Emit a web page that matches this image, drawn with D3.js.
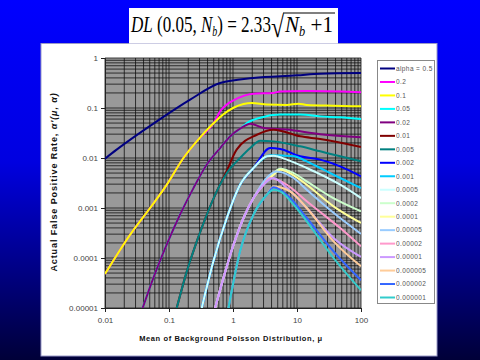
<!DOCTYPE html>
<html><head><meta charset="utf-8">
<script src="https://cdn.jsdelivr.net/npm/d3@7"></script>
<style>html,body{margin:0;padding:0;overflow:hidden;background:#0000ff}</style>
</head><body><svg id="c" width="480" height="360"></svg>
<script>
// ---- data (mu, alpha') ----
const seriesLabels = ["alpha = 0.5","0.2","0.1","0.05","0.02","0.01","0.005","0.002","0.001","0.0005","0.0002","0.0001","0.00005","0.00002","0.00001","0.000005","0.000002","0.000001"];
const xTickLabels = ["0.01","0.1","1","10","100"];
const yTickLabels = ["1","0.1","0.01","0.001","0.0001","0.00001"];

const lowN2 = [[0.01,4.8e-5],[0.0143,1e-4],[0.0246,2.9e-4],[0.0506,1e-3],[0.092,2.9e-3],[0.168,0.01],[0.3,0.025],[0.5,0.05]];
const lowN3 = [[0.0388,1e-5],[0.057,4e-5],[0.092,1.85e-4],[0.149,7.4e-4],[0.241,2.5e-3],[0.39,7.4e-3],[0.63,0.0158],[0.9,0.027],[1.29,0.0386]];
const lowN4 = [[0.132,1e-5],[0.19,5.4e-5],[0.272,2.15e-4],[0.39,7.36e-4],[0.557,2.15e-3],[0.8,5.0e-3]];
const lowN5 = [[0.325,1e-5],[0.494,8.58e-5],[0.8,6.31e-4],[1.29,2.92e-3],[2.09,6.3e-3]];
const lowN6 = [[0.526,1e-5],[0.71,4e-5],[1.02,1.85e-4],[1.46,6.31e-4],[2.09,1.58e-3]];
const lowN7 = [[0.85,1e-5],[1.29,1.36e-4],[2.09,7.36e-4],[3.38,1.84e-3]];

const a0_5 = [[0.01,0.0097],[0.0152,0.0147],[0.0643,0.054],[0.214,0.147],[0.63,0.316],[2.07,0.398],[10,0.45],[23,0.486],[100,0.50]];
const a0_2 = lowN2.concat([[0.63,0.086],[0.8,0.117],[1.0,0.14],[1.5,0.177],[2.09,0.193],[4.3,0.2],[5.5,0.215],[14,0.219],[47,0.215],[100,0.206]]);
const a0_1 = lowN2.concat([[0.7,0.074],[1.0,0.1],[1.46,0.12],[1.96,0.126],[3.38,0.117],[6.95,0.115],[10.5,0.122],[14.2,0.115],[37,0.111],[100,0.108]]);
const a0_05 = lowN3.concat([[1.65,0.05],[2.66,0.064],[5.47,0.074],[11.2,0.074],[23,0.068],[47.3,0.065],[100,0.060]]);
const a0_02 = lowN3.concat([[1.86,0.0486],[3.0,0.04],[6.95,0.037],[23,0.030],[100,0.026]]);
const a0_01 = lowN4.slice(0,5).concat([[0.8,5.6e-3],[1.14,0.0147],[2.36,0.0292],[4.3,0.0368],[11.2,0.0271],[23,0.0240],[100,0.0166]]);
const a0_005 = lowN4.concat([[1.29,0.01],[1.86,0.0158],[2.66,0.0222],[4.3,0.0215],[11.2,0.0171],[23,0.0136],[47.3,0.0108],[100,0.00858]]);
const a0_002 = lowN5.concat([[3.81,0.0158],[5.47,0.0151],[11.2,0.0108],[23,0.00928],[47.3,0.00681],[100,0.0043]]);
const a0_001 = lowN5.concat([[3.81,0.0113],[8.85,0.0108],[14.2,0.00858],[25.9,0.00584],[47.3,0.00398],[100,0.0025]]);
const a0_0005 = lowN5.concat([[3.38,0.0108],[4.3,0.0111],[6.95,0.00928],[14.2,0.0063],[47.3,0.00292],[100,0.00158]]);
const a0_0002 = lowN6.concat([[4.3,5.0e-3],[5.47,6.1e-3],[8.85,5.0e-3],[14.2,3.41e-3],[33,1.71e-3],[100,8.58e-4]]);
const a0_0001 = lowN6.concat([[4.3,4.6e-3],[5.47,5.84e-3],[8.85,4.5e-3],[14.2,2.92e-3],[37.2,1.08e-3],[100,5.01e-4]]);
const a5e_5 = lowN6.concat([[4.85,5.4e-3],[8.85,3.98e-3],[14.2,2.32e-3],[37.2,8.0e-4],[100,3.02e-4]]);
const a2e_5 = lowN6.concat([[3.0,2.92e-3],[3.81,3.98e-3],[4.85,3.69e-3],[6.95,2.92e-3],[14.2,1.36e-3],[25.9,7.36e-4],[47.3,3.98e-4],[100,1.71e-4]]);
const a1e_5 = lowN6.concat([[3.0,2.92e-3],[4.3,3.98e-3],[6.95,2.5e-3],[14.2,1e-3],[37.2,2.51e-4],[100,1.05e-4]]);
const a5e_6 = lowN7.concat([[4.3,2.7e-3],[7.8,2.15e-3],[14.2,1e-3],[37.2,2.15e-4],[100,6.81e-5]]);
const a2e_6 = lowN7.concat([[4.3,2.6e-3],[7.8,1.58e-3],[14.2,6.31e-4],[37.2,1.36e-4],[100,3.59e-5]]);
const a1e_6 = lowN7.concat([[4.3,2.32e-3],[5.47,2.15e-3],[8.85,1.17e-3],[14.2,5.41e-4],[37.2,1e-4],[100,2.27e-5]]);

const seriesData = [a0_5,a0_2,a0_1,a0_05,a0_02,a0_01,a0_005,a0_002,a0_001,a0_0005,a0_0002,a0_0001,a5e_5,a2e_5,a1e_5,a5e_6,a2e_6,a1e_6];
const seriesColors = ["#000080","#ff00ff","#ffff00","#00ffff","#800080","#800000","#008080","#0000ff","#00ccff","#ccffff","#ccffcc","#ffff99","#99ccff","#ff99cc","#cc99ff","#ffcc99","#3366ff","#33cccc"];

// ---- drawing ----
const svg = d3.select("#c");
const defs = svg.append("defs");
const grad = defs.append("linearGradient").attr("id","bg").attr("x1",0).attr("y1",0).attr("x2",0).attr("y2",1);
grad.append("stop").attr("offset","0").attr("stop-color","#0000ff");
grad.append("stop").attr("offset","0.45").attr("stop-color","#0000e0");
grad.append("stop").attr("offset","1").attr("stop-color","#000038");
svg.append("rect").attr("width",480).attr("height",360).attr("fill","url(#bg)");

// white chart panel
svg.append("rect").attr("x",41).attr("y",43.5).attr("width",396).attr("height",312.5)
  .attr("fill","#fff").attr("stroke","#9a9ac8").attr("stroke-width",1);

// title box
svg.append("rect").attr("x",129).attr("y",8).attr("width",209).attr("height",35.5).attr("fill","#fff");
const tf = "'Liberation Serif','Times New Roman',serif";
const t1 = svg.append("text").attr("x",0).attr("y",32).attr("font-family",tf).attr("font-size",24).attr("fill","#000");
t1.append("tspan").attr("font-style","italic").text("DL");
t1.append("tspan").text(" (0.05, ");
t1.append("tspan").attr("font-style","italic").text("N");
t1.append("tspan").attr("font-style","italic").attr("font-size",14).attr("dy",4).text("b");
t1.append("tspan").attr("dy",-4).text(") = 2.33");
const w1 = t1.node().getComputedTextLength();
t1.attr("transform",`translate(131,0) scale(${140/w1},1)`);
const rad = svg.append("text").attr("x",0).attr("y",37).attr("font-family",tf).attr("font-size",30).text("\u221A");
const rw = rad.node().getComputedTextLength();
rad.attr("transform",`translate(271,0) scale(${13/rw},1)`);
const t2 = svg.append("text").attr("x",0).attr("y",32).attr("font-family",tf).attr("font-size",24);
t2.append("tspan").attr("font-style","italic").text("N");
t2.append("tspan").attr("font-style","italic").attr("font-size",14).attr("dy",4).text("b");
t2.append("tspan").attr("dy",-4).text(" +1");
const w2 = t2.node().getComputedTextLength();
t2.attr("transform",`translate(285,0) scale(${48/w2},1)`);
svg.append("line").attr("x1",283).attr("x2",335).attr("y1",13).attr("y2",13).attr("stroke","#000").attr("stroke-width",1.2);

// scales
const x = d3.scaleLog().domain([0.01,100]).range([105,361]);
const y = d3.scaleLog().domain([1e-5,1]).range([308,58]);

svg.append("rect").attr("x",105).attr("y",58).attr("width",256).attr("height",250).attr("fill","#999999");

// grid lines (major + minor)
const g = svg.append("g");
const xg = [], yg = [];
for (let e=-2;e<2;e++) for (let k=1;k<10;k++) xg.push(k*Math.pow(10,e));
xg.push(100);
for (let e=-5;e<0;e++) for (let k=1;k<10;k++) yg.push(k*Math.pow(10,e));
yg.push(1);
g.selectAll(".vx").data(xg).join("line").attr("x1",d=>x(d)).attr("x2",d=>x(d)).attr("y1",58).attr("y2",308)
  .attr("stroke","#111").attr("stroke-width",0.8);
g.selectAll(".hy").data(yg).join("line").attr("y1",d=>y(d)).attr("y2",d=>y(d)).attr("x1",105).attr("x2",361)
  .attr("stroke","#111").attr("stroke-width",0.8);

// axes
const xAxis = d3.axisBottom(x).tickValues([0.01,0.1,1,10,100]).tickFormat((d,i)=>xTickLabels[i]).tickSize(4).tickPadding(5);
const yAxis = d3.axisLeft(y).tickValues([1,0.1,0.01,0.001,0.0001,0.00001]).tickFormat((d,i)=>yTickLabels[i]).tickSize(4).tickPadding(3);
const ax = svg.append("g").attr("transform","translate(0,308)").call(xAxis);
const ay = svg.append("g").attr("transform","translate(105,0)").call(yAxis);
[ax,ay].forEach(a=>{
  a.select(".domain").attr("stroke","#222");
  a.selectAll(".tick line").attr("stroke","#222");
  a.selectAll("text").attr("font-family","'Liberation Sans',Arial,sans-serif").attr("font-size",8).attr("fill","#444");
});

// clip + series lines
defs.append("clipPath").attr("id","pc").append("rect").attr("x",105).attr("y",58).attr("width",256).attr("height",250);
const line = d3.line().x(d=>x(d[0])).y(d=>y(d[1])).curve(d3.curveMonotoneX);
const lg = svg.append("g").attr("clip-path","url(#pc)");
lg.selectAll("path").data(seriesData).join("path").attr("d",line).attr("fill","none")
  .attr("stroke",(d,i)=>seriesColors[i]).attr("stroke-width",2).attr("stroke-linejoin","round");

// axis titles
svg.append("text").attr("x",231).attr("y",341).attr("text-anchor","middle")
  .attr("font-family","'Liberation Sans',Arial,sans-serif").attr("font-weight","bold").attr("font-size",7.5)
  .attr("letter-spacing",0.6).attr("fill","#111").text("Mean of Background Poisson Distribution, \u03BC");
const yt = svg.append("text").attr("transform","translate(57,182) rotate(-90)").attr("text-anchor","middle")
  .attr("font-family","'Liberation Sans',Arial,sans-serif").attr("font-weight","bold").attr("font-size",9)
  .attr("letter-spacing",0.9).attr("fill","#111");
yt.append("tspan").text("Actual False Positive Rate,  ");
yt.append("tspan").attr("font-style","italic").text("\u03B1'(\u03BC, \u03B1)");

// legend
svg.append("rect").attr("x",377.5).attr("y",60.5).attr("width",57).attr("height",243).attr("fill","#fff").attr("stroke","#888").attr("stroke-width",1);
const leg = svg.append("g");
const ly = d3.scalePoint().domain(d3.range(seriesLabels.length)).range([68.5,297.5]);
const li = leg.selectAll("g").data(seriesLabels).join("g").attr("transform",(d,i)=>`translate(0,${ly(i)})`);
li.append("line").attr("x1",380).attr("x2",395).attr("stroke",(d,i)=>seriesColors[i]).attr("stroke-width",2);
li.append("text").attr("x",396).attr("y",2.3).attr("font-family","'Liberation Sans',Arial,sans-serif").attr("font-size",6.5)
  .attr("letter-spacing",0.4).attr("fill","#555").text(d=>d);
</script></body></html>
